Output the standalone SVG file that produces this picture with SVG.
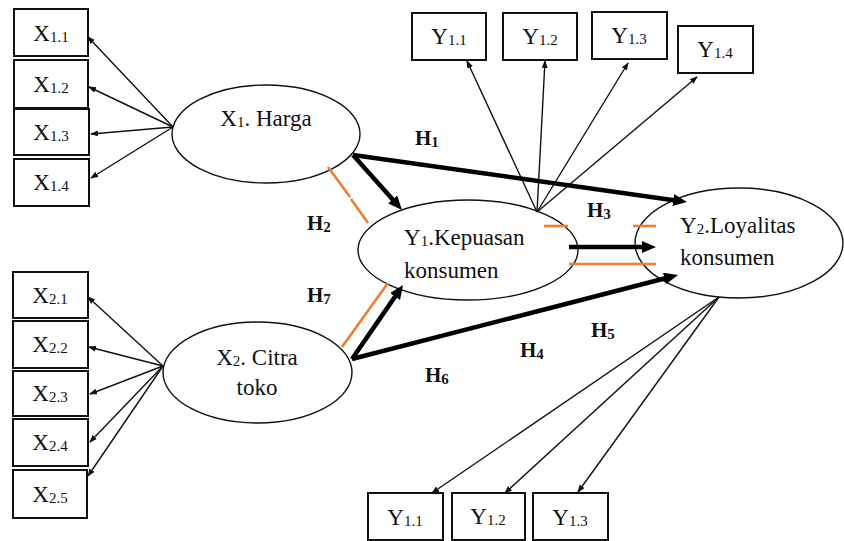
<svg xmlns="http://www.w3.org/2000/svg" width="844" height="541" viewBox="0 0 844 541">
  <style>
    .box { fill: #fff; stroke: #111; stroke-width: 2; }
    .lv { fill: none; stroke: #111; stroke-width: 1.4; }
    .t { font-family: "Liberation Serif", "Times New Roman", serif; font-size: 23px; fill: #111; }
    .sub { font-size: 15px; }
    .h { font-family: "Liberation Serif", "Times New Roman", serif; font-size: 21px; font-weight: bold; fill: #111; }
    .hs { font-size: 15px; }
    .load { stroke: #111; stroke-width: 1.4; fill: none; marker-end: url(#small); }
    .path { stroke: #000; stroke-width: 4.5; fill: none; marker-end: url(#big); }
    .mod { stroke: #ED7D31; stroke-width: 2.6; fill: none; }
  </style>
  <defs>
    <marker id="small" markerUnits="userSpaceOnUse" markerWidth="9" markerHeight="7" refX="7" refY="3" orient="auto">
      <path d="M0,0 L8,3 L0,6 z" fill="#111"/>
    </marker>
    <marker id="big" markerUnits="userSpaceOnUse" markerWidth="15" markerHeight="13" refX="6" refY="6" orient="auto">
      <path d="M0,0 L14,6 L0,12 z" fill="#000"/>
    </marker>
  </defs>
  <rect width="844" height="541" fill="#fff"/>

  <!-- latent variables -->
  <g id="x1">
    <ellipse class="lv" cx="266" cy="134" rx="94" ry="49"/>
    <text class="t" x="266" y="126" text-anchor="middle">X<tspan class="sub" dy="1">1</tspan><tspan dy="-1">. Harga</tspan></text>
  </g>
  <g id="x2">
    <ellipse class="lv" cx="257.5" cy="372.5" rx="94.5" ry="50.5"/>
    <text class="t" x="257" y="365" text-anchor="middle">X<tspan class="sub" dy="1">2</tspan><tspan dy="-1">. Citra</tspan></text>
    <text class="t" x="257" y="395" text-anchor="middle">toko</text>
  </g>
  <g id="y1">
    <ellipse class="lv" cx="468" cy="250" rx="110" ry="50"/>
    <text class="t" x="404" y="245">Y<tspan class="sub" dy="1">1</tspan><tspan dy="-1">.Kepuasan</tspan></text>
    <text class="t" x="404" y="278">konsumen</text>
  </g>
  <g id="y2">
    <ellipse class="lv" cx="739" cy="243" rx="104" ry="55"/>
    <text class="t" x="680" y="233">Y<tspan class="sub" dy="1">2</tspan><tspan dy="-1">.Loyalitas</tspan></text>
    <text class="t" x="680" y="265">konsumen</text>
  </g>

  <!-- X1 indicator boxes -->
  <g id="x11"><rect class="box" x="14" y="9" width="74" height="47"/><text class="t" x="51" y="41" text-anchor="middle">X<tspan class="sub" dy="1">1.1</tspan></text></g>
  <g id="x12"><rect class="box" x="14" y="60" width="74" height="48"/><text class="t" x="51" y="92" text-anchor="middle">X<tspan class="sub" dy="1">1.2</tspan></text></g>
  <g id="x13"><rect class="box" x="14" y="109" width="75" height="46"/><text class="t" x="51" y="140" text-anchor="middle">X<tspan class="sub" dy="1">1.3</tspan></text></g>
  <g id="x14"><rect class="box" x="14" y="159" width="75" height="47"/><text class="t" x="51" y="190" text-anchor="middle">X<tspan class="sub" dy="1">1.4</tspan></text></g>

  <!-- X2 indicator boxes -->
  <g id="x21"><rect class="box" x="13" y="272" width="75" height="46"/><text class="t" x="50" y="303" text-anchor="middle">X<tspan class="sub" dy="1">2.1</tspan></text></g>
  <g id="x22"><rect class="box" x="13" y="321" width="75" height="47"/><text class="t" x="50" y="352" text-anchor="middle">X<tspan class="sub" dy="1">2.2</tspan></text></g>
  <g id="x23"><rect class="box" x="13" y="371" width="75" height="45"/><text class="t" x="50" y="401" text-anchor="middle">X<tspan class="sub" dy="1">2.3</tspan></text></g>
  <g id="x24"><rect class="box" x="13" y="419" width="75" height="47"/><text class="t" x="50" y="450" text-anchor="middle">X<tspan class="sub" dy="1">2.4</tspan></text></g>
  <g id="x25"><rect class="box" x="13" y="470" width="74" height="48"/><text class="t" x="50" y="502" text-anchor="middle">X<tspan class="sub" dy="1">2.5</tspan></text></g>

  <!-- Y1 indicator boxes -->
  <g id="y11"><rect class="box" x="412" y="13" width="74" height="47"/><text class="t" x="449" y="44" text-anchor="middle">Y<tspan class="sub" dy="1">1.1</tspan></text></g>
  <g id="y12"><rect class="box" x="503" y="13" width="74" height="47"/><text class="t" x="540" y="44" text-anchor="middle">Y<tspan class="sub" dy="1">1.2</tspan></text></g>
  <g id="y13"><rect class="box" x="592" y="12" width="75" height="47"/><text class="t" x="629" y="43" text-anchor="middle">Y<tspan class="sub" dy="1">1.3</tspan></text></g>
  <g id="y14"><rect class="box" x="678" y="26" width="75" height="47"/><text class="t" x="715" y="57" text-anchor="middle">Y<tspan class="sub" dy="1">1.4</tspan></text></g>

  <!-- Y2 indicator boxes -->
  <g id="y21"><rect class="box" x="368" y="493" width="75" height="47"/><text class="t" x="405" y="525" text-anchor="middle">Y<tspan class="sub" dy="1">1.1</tspan></text></g>
  <g id="y22"><rect class="box" x="452" y="493" width="73" height="47"/><text class="t" x="488" y="524" text-anchor="middle">Y<tspan class="sub" dy="1">1.2</tspan></text></g>
  <g id="y23"><rect class="box" x="533" y="493" width="75" height="47"/><text class="t" x="570" y="525" text-anchor="middle">Y<tspan class="sub" dy="1">1.3</tspan></text></g>

  <!-- connectors -->
  <g id="connectors">
    <!-- X1 indicators -->
    <line class="load" x1="173" y1="127" x2="88" y2="37"/>
    <line class="load" x1="173" y1="127" x2="89" y2="87"/>
    <line class="load" x1="173" y1="127" x2="91" y2="134"/>
    <line class="load" x1="173" y1="127" x2="91" y2="178"/>
    <!-- X2 indicators -->
    <line class="load" x1="163" y1="366" x2="88" y2="297"/>
    <line class="load" x1="163" y1="366" x2="89" y2="347"/>
    <line class="load" x1="163" y1="366" x2="90" y2="394"/>
    <line class="load" x1="163" y1="366" x2="90" y2="442"/>
    <line class="load" x1="163" y1="366" x2="88" y2="476"/>
    <!-- Y1 indicators -->
    <line class="load" x1="537" y1="212" x2="467" y2="61"/>
    <line class="load" x1="537" y1="212" x2="545" y2="61"/>
    <line class="load" x1="537" y1="212" x2="628" y2="63"/>
    <line class="load" x1="537" y1="212" x2="697" y2="77"/>
    <!-- Y2 indicators -->
    <line class="load" x1="719" y1="297" x2="432" y2="493"/>
    <line class="load" x1="719" y1="297" x2="505" y2="493"/>
    <line class="load" x1="719" y1="297" x2="578" y2="492"/>

    <!-- structural paths -->
    <line class="path" x1="353" y1="155" x2="679.1" y2="200.9"/>
    <line class="path" x1="353" y1="155" x2="396.7" y2="204"/>
    <line class="path" x1="569" y1="247" x2="648" y2="247"/>
    <line class="path" x1="352" y1="359" x2="398.5" y2="291.6"/>
    <line class="path" x1="352" y1="359" x2="670.3" y2="277"/>

    <!-- mediation / moderation marks -->
    <path class="mod" d="M328,167 L350,197 M351,199 L368,223"/>
    <line class="mod" x1="342" y1="347" x2="388" y2="283"/>
    <line class="mod" x1="544" y1="226" x2="568" y2="226"/>
    <line class="mod" x1="633" y1="226" x2="656" y2="226"/>
    <line class="mod" x1="569" y1="264" x2="656" y2="264"/>
  </g>

  <!-- hypothesis labels -->
  <g id="labels">
    <text class="h" x="415" y="145">H<tspan class="hs" dy="2">1</tspan></text>
    <text class="h" x="307" y="230">H<tspan class="hs" dy="2">2</tspan></text>
    <text class="h" x="587" y="217">H<tspan class="hs" dy="2">3</tspan></text>
    <text class="h" x="520" y="357">H<tspan class="hs" dy="2">4</tspan></text>
    <text class="h" x="591" y="337">H<tspan class="hs" dy="2">5</tspan></text>
    <text class="h" x="425" y="382">H<tspan class="hs" dy="2">6</tspan></text>
    <text class="h" x="307" y="302">H<tspan class="hs" dy="2">7</tspan></text>
  </g>
</svg>
